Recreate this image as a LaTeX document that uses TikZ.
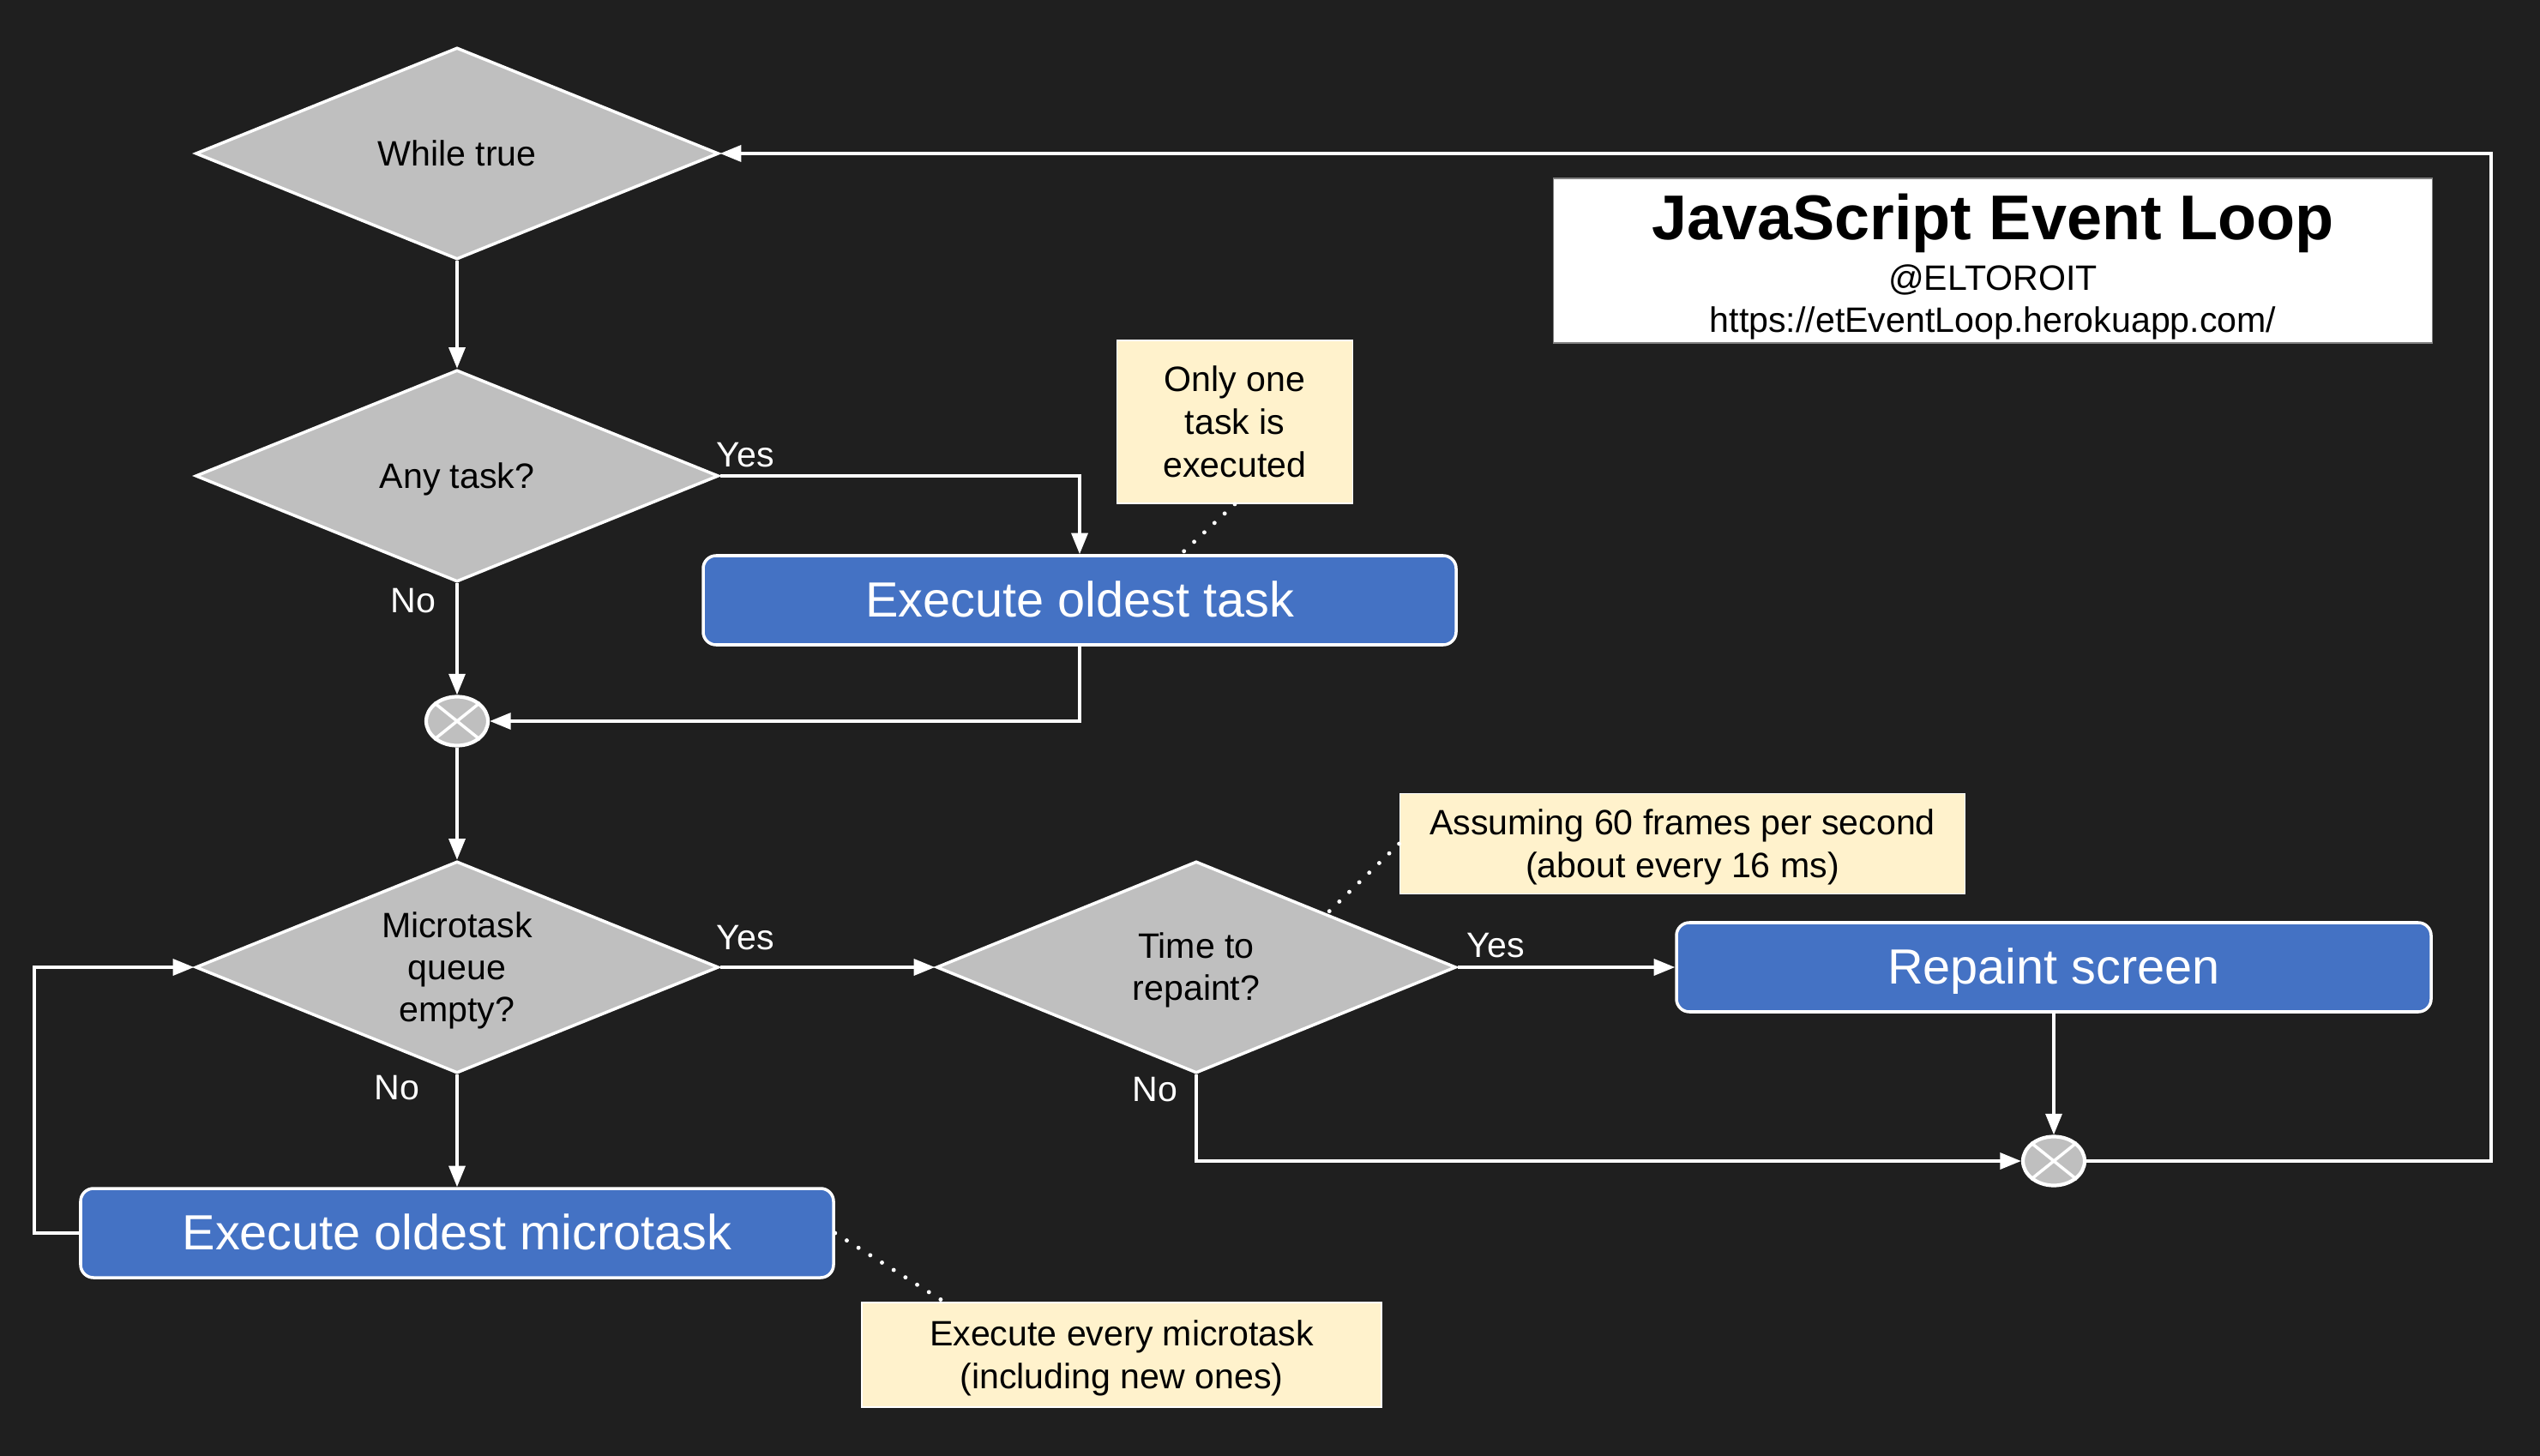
\documentclass[tikz,border=0pt]{standalone}
\usepackage{fontspec}
\setmainfont{Liberation Sans}
\usetikzlibrary{shapes.geometric,arrows.meta}

\definecolor{bgdark}{HTML}{1F1F1F}
\definecolor{diagray}{HTML}{BFBFBF}
\definecolor{boxblue}{HTML}{4472C4}
\definecolor{notecream}{HTML}{FFF2CC}

%strut for the first line of a text
\newcommand{\linetop}{\vrule width 0pt height 0.905em depth 0pt}

\begin{document}
\begin{tikzpicture}[
  linestrut/.style={execute at begin node={\linetop},execute at end node={\vrule width 0pt height 0pt depth 0.212em}},
  decision/.style={diamond,draw=white,line width=1pt,fill=diagray,minimum width=6.1cm,minimum height=2.47cm,inner sep=0pt,aspect=2.47,align=center,text=black,font=\fontsize{11.7}{13.9}\selectfont,linestrut},
  process/.style={rectangle,rounded corners=0.15cm,draw=white,line width=1pt,fill=boxblue,minimum width=8.78cm,minimum height=1.04cm,text height=14.8pt,text depth=3.5pt,text=white,font=\fontsize{16.4}{19}\selectfont},
  note/.style={rectangle,draw=white,line width=0.5pt,fill=notecream,align=center,inner sep=0pt,text=black,font=\fontsize{11.7}{14.2}\selectfont,linestrut},
  merge/.style={ellipse,draw=white,line width=1.2pt,fill=diagray,minimum width=0.72cm,minimum height=0.57cm,inner sep=0pt},
  flow/.style={draw=white,line width=1pt,-{Triangle[length=7pt,width=5.4pt]}},
  link/.style={draw=white,line width=1.4pt,line cap=round,dash pattern=on 0pt off 4.6pt},
  answer/.style={text=white,font=\fontsize{11.7}{13.9}\selectfont}
]

%background and page size
\fill[bgdark] (0,0) rectangle (29.62,-16.98);
\useasboundingbox (0,0) rectangle (29.62,-16.98);

%title
\node[rectangle,fill=white,draw=gray,line width=0.5pt,inner ysep=0pt,minimum width=10.25cm,minimum height=1.92cm,align=center,text=black,font=\fontsize{11.7}{13.9}\selectfont] (title) at (23.24,-3.04)
  {{\fontsize{21}{25}\selectfont\bfseries\linetop JavaScript Event Loop}\\[2.9pt]@ELTOROIT\\https://etEventLoop.herokuapp.com/};

%decisions
\node[decision] (while) at (5.33,-1.79) {While true};
\node[decision] (anytask) at (5.33,-5.55) {Any task?};
\node[decision] (microq) at (5.33,-11.28) {\linetop Microtask\\queue\\empty?};
\node[decision,minimum width=6.06cm] (repaintq) at (13.95,-11.28) {\linetop Time to\\repaint?};

%actions
\node[process] (exectask) at (12.59,-7.00) {Execute oldest task};
\node[process] (execmicro) at (5.33,-14.38) {Execute oldest microtask};
\node[process,minimum width=8.80cm] (repaint) at (23.95,-11.28) {Repaint screen};

%merge points
\node[merge] (merge1) at (5.33,-8.41) {};
\node[merge] (merge2) at (23.95,-13.54) {};
\foreach \m in {merge1,merge2}
	{
	\draw[white,line width=1pt] (\m.north east)--(\m.south west) (\m.north west)--(\m.south east);
	}

%notes
\node[note,minimum width=2.75cm,minimum height=1.90cm] (tasknote) at (14.40,-4.92) {\linetop Only one\\task is\\executed};
\node[note,minimum width=6.59cm,minimum height=1.17cm] (framenote) at (19.62,-9.84) {\linetop Assuming 60 frames per second\\(about every 16 ms)};
\node[note,minimum width=6.06cm,minimum height=1.22cm] (micronote) at (13.08,-15.80) {\linetop Execute every microtask\\(including new ones)};

%yes and no labels
\node[answer] (yes1) at (8.69,-5.31) {Yes};
\node[answer] (no1) at (4.82,-7.01) {No};
\node[answer] (yes2) at (8.69,-10.94) {Yes};
\node[answer] (no2) at (4.63,-12.69) {No};
\node[answer] (yes3) at (17.44,-11.03) {Yes};
\node[answer] (no3) at (13.47,-12.71) {No};

%flow arrows
\draw[flow] (while.south)--(anytask.north);
\draw[flow] (anytask.east) -| (exectask.north);
\draw[flow] (anytask.south)--(merge1.north);
\draw[flow] (exectask.south) |- (merge1.east);
\draw[flow] (merge1.south)--(microq.north);
\draw[flow] (microq.south)--(execmicro.north);
\draw[flow] (execmicro.west)--++(-0.52,0) |- (microq.west);
\draw[flow] (microq.east)--(repaintq.west);
\draw[flow] (repaintq.east)--(repaint.west);
\draw[flow] (repaint.south)--(merge2.north);
\draw[flow] (repaintq.south) |- (merge2.west);
\draw[flow] (merge2.east)--++(4.72,0) |- (while.east);

%dotted note links
\draw[link] (tasknote.south)--([xshift=1.18cm]exectask.north);
\draw[link] (framenote.west)--(repaintq.north east);
\draw[link] (execmicro.east)--([xshift=0.97cm]micronote.north west);

\end{tikzpicture}
\end{document}
